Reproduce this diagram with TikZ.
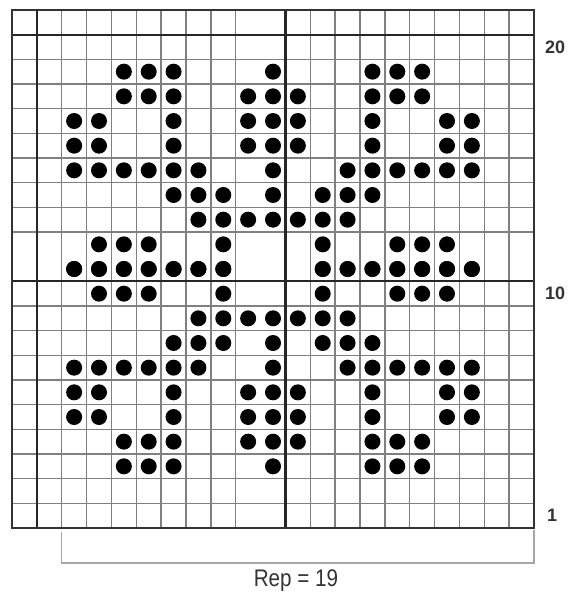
\documentclass[tikz,border=0pt]{standalone}
\usepackage{fontspec}
\setmainfont{Liberation Sans}
\begin{document}
\begin{tikzpicture}[x=1pt,y=-1pt,
  thinline/.style={draw=black!50,line width=1.4pt},
  thickline/.style={draw=black!85,line width=2.2pt},
  dot/.style={fill=black},
  rowlabel/.style={font=\fontsize{18}{18}\selectfont\bfseries,text=black!80,anchor=west,inner sep=0pt},
  bracket/.style={draw=black!35,line width=1.4pt}]
\useasboundingbox (0,0) rectangle (573,599);
\pgfmathsetmacro{\gx}{12}
\pgfmathsetmacro{\gy}{10}
\pgfmathsetmacro{\cw}{522/21}
\pgfmathsetmacro{\rh}{518/21}
% thin grid lines
\foreach \i in {2,...,9,11,12,...,20} {
  \draw[thinline] ({\gx+\i*\cw},\gy) -- ({\gx+\i*\cw},{\gy+21*\rh});
}
\foreach \j in {2,...,9,11,12,...,20} {
  \draw[thinline] (\gx,{\gy+\j*\rh}) -- ({\gx+21*\cw},{\gy+\j*\rh});
}
% thick lines
\draw[thickline] ({\gx+1*\cw},\gy) -- ({\gx+1*\cw},{\gy+21*\rh});
\draw[thickline] ({\gx+11*\cw},\gy) -- ({\gx+11*\cw},{\gy+21*\rh});
\draw[thickline] (\gx,{\gy+1*\rh}) -- ({\gx+21*\cw},{\gy+1*\rh});
\draw[thickline] (\gx,{\gy+11*\rh}) -- ({\gx+21*\cw},{\gy+11*\rh});
\draw[draw=black!80,line width=1.8pt] (\gx,\gy) rectangle ({\gx+21*\cw},{\gy+21*\rh});
% dots: row number (from bottom) / columns (from left, 0-based); mirrored about row 11
\foreach \r/\cs in {19/{4,5,6,10,14,15,16},
                    18/{4,5,6,9,10,11,14,15,16},
                    17/{2,3,6,9,10,11,14,17,18},
                    16/{2,3,6,9,10,11,14,17,18},
                    15/{2,3,4,5,6,7,10,13,14,15,16,17,18},
                    14/{6,7,8,10,12,13,14},
                    13/{7,8,9,10,11,12,13},
                    12/{3,4,5,8,12,15,16,17},
                    11/{2,3,4,5,6,7,8,12,13,14,15,16,17,18}} {
  \foreach \c in \cs {
    \fill[dot] ({\gx+(\c+0.5)*\cw},{\gy+(21-\r+0.5)*\rh}) circle (8pt);
    \fill[dot] ({\gx+(\c+0.5)*\cw},{\gy+(\r-1+0.5)*\rh}) circle (8pt);
  }
}
% row labels
\node[rowlabel] (l20) at (545,{\gy+1.5*\rh}) {20};
\node[rowlabel] (l10) at (545,{\gy+11.5*\rh}) {10};
\node[rowlabel] (l1) at (547,{\gy+20.5*\rh}) {1};
% repeat bracket
\coordinate (bl) at ({\gx+2*\cw},532);
\coordinate (br) at ({\gx+21*\cw},530);
\draw[bracket] (bl) -- ++(0,31) -| (br);
\node[font=\fontsize{24}{24}\selectfont,text=black!80,xscale=0.86] (rep) at (296,581) {Rep = 19};
\end{tikzpicture}
\end{document}
